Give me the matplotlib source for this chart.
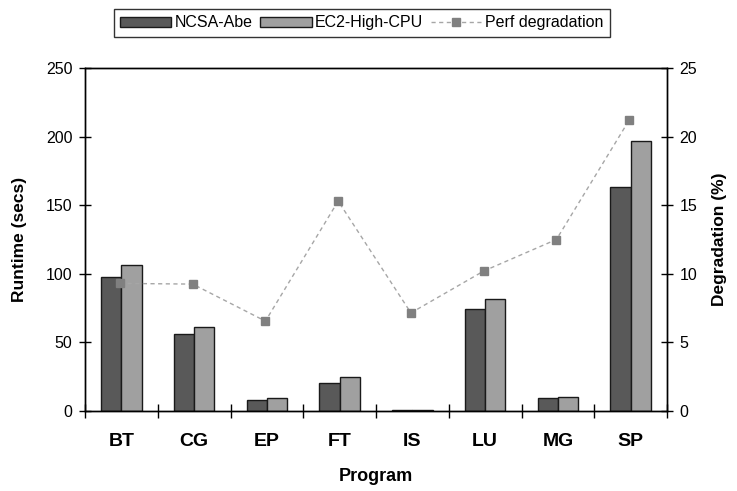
import matplotlib

matplotlib.use("Agg")
import matplotlib.pyplot as plt
import numpy as np

plt.rcParams["font.family"] = ["Liberation Sans", "DejaVu Sans"]

programs = ["BT", "CG", "EP", "FT", "IS", "LU", "MG", "SP"]
ncsa_abe = [97.7, 56.3, 7.8, 20.7, 0.6, 74.3, 9.3, 163.2]
ec2_high_cpu = [106.4, 61.4, 9.5, 24.6, 0.7, 81.6, 10.2, 197.1]
perf_degradation = [9.3, 9.25, 6.55, 15.3, 7.15, 10.2, 12.5, 21.2]

DARK = "#595959"
LIGHT = "#a0a0a0"
EDGE = "#1a1a1a"

fig = plt.figure(figsize=(7.37, 4.91), dpi=100)
ax = fig.add_axes([85 / 737, 1 - 411 / 491, (667 - 85) / 737, (411 - 68) / 491])
ax2 = ax.twinx()

x = np.arange(len(programs))
w = 0.28
b1 = ax.bar(x - w / 2, ncsa_abe, w, color=DARK, edgecolor=EDGE, linewidth=1.0, label="NCSA-Abe")
b2 = ax.bar(x + w / 2, ec2_high_cpu, w, color=LIGHT, edgecolor=EDGE, linewidth=1.0, label="EC2-High-CPU")
ln, = ax2.plot(x - 0.02, perf_degradation, linestyle=(0, (3, 2.5)), color="#a6a6a6", linewidth=1.0,
               marker="s", markersize=6, markerfacecolor="#808080", markeredgecolor="#808080",
               label="Perf degradation")

ax.set_xlim(-0.5, len(programs) - 0.5)
ax.set_ylim(0, 250)
ax2.set_ylim(0, 25)
ax.set_yticks(np.arange(0, 251, 50))
ax2.set_yticks(np.arange(0, 26, 5))

ax.set_xticks(x)
ax.set_xticklabels(programs, fontsize=14, fontweight="bold")
ax.set_xticks(np.arange(-0.5, len(programs), 1.0), minor=True)
ax.tick_params(axis="x", which="major", length=0, pad=16)
ax.tick_params(axis="x", which="minor", length=10, direction="inout", width=1.0)
ax.tick_params(axis="y", direction="inout", length=8, width=1.0, labelsize=11.5, pad=5)
ax2.tick_params(axis="y", direction="inout", length=8, width=1.0, labelsize=11.5, pad=5)

for a in (ax, ax2):
    for s in a.spines.values():
        s.set_color("black")
        s.set_linewidth(1.0)

ax.set_xlabel("Program", fontsize=13, fontweight="bold")
ax.set_ylabel("Runtime (secs)", fontsize=12.5, fontweight="bold")
ax2.set_ylabel("Degradation (%)", fontsize=12.5, fontweight="bold")
ax.xaxis.set_label_coords(0.5, -0.165)
ax.yaxis.set_label_coords(-0.1, 0.5)
ax2.yaxis.set_label_coords(1.077, 0.5)

leg = fig.legend(handles=[b1, b2, ln], loc="upper center", bbox_to_anchor=(0.491, 0.988), ncol=3,
                 fontsize=11.5, frameon=True, fancybox=False, edgecolor="black",
                 handlelength=3.2, handleheight=0.55, handletextpad=0.2, columnspacing=0.5,
                 borderpad=0.4, borderaxespad=0.2)
leg.get_frame().set_linewidth(1.0)

fig.savefig("out.png", dpi=100)
